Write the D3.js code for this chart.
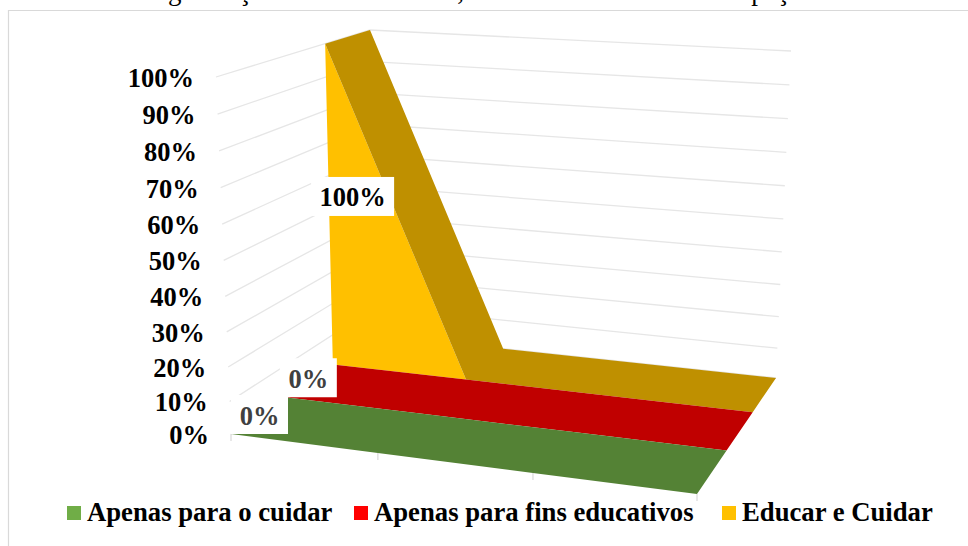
<!DOCTYPE html>
<html>
<head>
<meta charset="utf-8">
<script src="https://cdn.jsdelivr.net/npm/d3@7"></script>
<style>
  html, body { margin: 0; padding: 0; background: #fff; }
  svg { display: block; }
  text { font-family: "Liberation Serif", serif; font-weight: bold; }
</style>
</head>
<body>
<div id="chart"></div>
<script>
// chart values
var categories = ["1", "2", "3", "4"]; // no names shown on the floor axis
var seriesNames = ["Apenas para o cuidar", "Apenas para fins educativos", "Educar e Cuidar"];
var seriesValues = [
  [0, 0, 0, 0],
  [0, 0, 0, 0],
  [100, 0, 0, 0]
];
var valueTicks = [0, 10, 20, 30, 40, 50, 60, 70, 80, 90, 100];

// colours
var legendColors = ["#70ad47", "#ff0000", "#ffc000"];
var topColors = ["#548235", "#c00000", "#bf9000"];

// where the 3D box sits on the page: floor and roof corners
var floorCorners = [[231, 434], [697, 494], [776, 378], [376, 335]];
var roofCorners = [[216, 77], [713, 115], [791, 51], [370, 30]];

// maps the unit square onto a quad
function homography(q) {
  var dx1 = q[1][0] - q[2][0], dx2 = q[3][0] - q[2][0], sx = q[0][0] - q[1][0] + q[2][0] - q[3][0],
      dy1 = q[1][1] - q[2][1], dy2 = q[3][1] - q[2][1], sy = q[0][1] - q[1][1] + q[2][1] - q[3][1],
      det = dx1 * dy2 - dx2 * dy1,
      g = (sx * dy2 - dx2 * sy) / det,
      h = (dx1 * sy - sx * dy1) / det;
  return function(u, d) {
    var w = g * u + h * d + 1;
    return [
      ((q[1][0] - q[0][0] + g * q[1][0]) * u + (q[3][0] - q[0][0] + h * q[3][0]) * d + q[0][0]) / w,
      ((q[1][1] - q[0][1] + g * q[1][1]) * u + (q[3][1] - q[0][1] + h * q[3][1]) * d + q[0][1]) / w
    ];
  };
}

var floorAt = homography(floorCorners),
    roofAt = homography(roofCorners);

var x = d3.scalePoint().domain(categories).range([0, 1]);
var z = d3.scaleLinear().domain([0, seriesNames.length]).range([0, 1]);
// gridlines spread a little towards the top, so not quite linear
var y = d3.scalePow().exponent(1.04).domain([0, 100]).range([0, 1]);

function project(u, d, v) {
  var a = floorAt(u, d), b = roofAt(u, d), t = y(v);
  return [a[0] + (b[0] - a[0]) * t, a[1] + (b[1] - a[1]) * t];
}

var svg = d3.select("#chart").append("svg")
  .attr("width", 968)
  .attr("height", 546);

var line = d3.line();
var polygon = d3.line().curve(d3.curveLinearClosed);

// page text cut off by the top of the chart
svg.append("text")
  .attr("x", 20)
  .attr("y", 0)
  .attr("font-size", 27)
  .style("font-weight", "normal")
  .text("Como uma organização de vocês na sala, como se dá o uso desse espaço?");

// chart frame
svg.append("path")
  .attr("d", "M8.5,546V10.5H968")
  .attr("fill", "none")
  .attr("stroke", "#d9d9d9")
  .attr("stroke-width", 1.2);

// gridlines on side and back wall
svg.append("g").selectAll("path")
  .data(valueTicks)
  .join("path")
  .attr("d", function(v) { return line([project(0, 0, v), project(0, 1, v), project(1, 1, v)]); })
  .attr("fill", "none")
  .attr("stroke", "#e6e6e6")
  .attr("stroke-width", 1.3);

// floor axis ticks
svg.append("g").selectAll("path")
  .data(categories)
  .join("path")
  .attr("d", function(c) {
    var p = project(x(c), 0, 0);
    return line([p, [p[0], p[1] + 7]]);
  })
  .attr("stroke", "#d9d9d9")
  .attr("stroke-width", 1.2);

// ribbons, back one first
d3.range(seriesNames.length - 1, -1, -1).forEach(function(s) {
  var g = svg.append("g");
  var vals = seriesValues[s];
  var d0 = z(s), d1 = z(s + 1);

  var front = categories.map(function(c, i) { return project(x(c), d0, vals[i]); });
  var back = categories.map(function(c, i) { return project(x(c), d1, vals[i]); });
  var base = categories.map(function(c) { return project(x(c), d0, 0); });

  // front face
  g.append("path")
    .attr("d", polygon(front.concat(base.slice().reverse())))
    .attr("fill", legendColors[s]);

  // top surface
  g.append("path")
    .attr("d", polygon(front.concat(back.slice().reverse())))
    .attr("fill", topColors[s]);
});

// value axis labels follow the front edge of the side wall
svg.append("g").selectAll("text")
  .data(valueTicks)
  .join("text")
  .attr("x", function(v) { return project(0, 0, v)[0] - 22; })
  .attr("y", function(v) { return project(0, 0, v)[1] + 10; })
  .attr("text-anchor", "end")
  .attr("font-size", 26.5)
  .attr("fill", "#000")
  .text(function(v) { return v + "%"; });

// data labels: white box around the first value of each series
var labelText = ["#404040", "#404040", "#000"];
var labelHeights = [0, 0, 50];
var labelOffsets = [[28.5, -19.5], [23.5, -19.5], [23.5, -12]];
var labelWidths = [57, 57, 83];
seriesNames.forEach(function(name, s) {
  var p = project(0, z(s), labelHeights[s]);
  var cx = p[0] + labelOffsets[s][0], cy = p[1] + labelOffsets[s][1];
  svg.append("rect")
    .attr("x", cx - labelWidths[s] / 2)
    .attr("y", cy - 19.5)
    .attr("width", labelWidths[s])
    .attr("height", 39)
    .attr("fill", "#fff");
  svg.append("text")
    .attr("x", cx)
    .attr("y", cy + 10)
    .attr("text-anchor", "middle")
    .attr("font-size", 26.5)
    .attr("fill", labelText[s])
    .text(seriesValues[s][0] + "%");
});

// legend
var legendX = [67, 354, 722];
var legend = svg.append("g").selectAll("g")
  .data(seriesNames)
  .join("g")
  .attr("transform", function(d, i) { return "translate(" + legendX[i] + ",506)"; });
legend.append("rect")
  .attr("width", 14)
  .attr("height", 14)
  .attr("fill", function(d, i) { return legendColors[i]; });
legend.append("text")
  .attr("x", 20)
  .attr("y", 15)
  .attr("font-size", 26.7)
  .attr("fill", "#000")
  .text(function(d) { return d; });
</script>
</body>
</html>
